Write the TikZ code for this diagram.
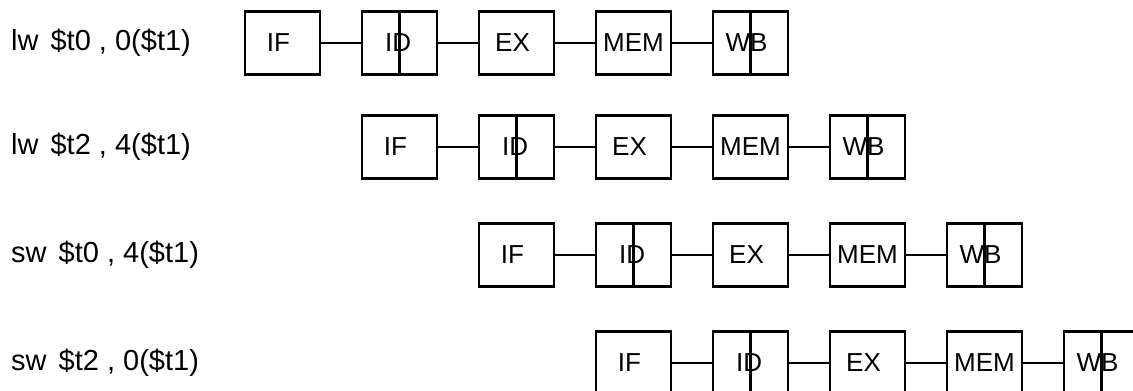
\documentclass[tikz,border=0pt]{standalone}
\usepackage{fontspec}
\setmainfont{Liberation Sans}
\tikzset{
  stage/.style={draw, line width=2.2pt, minimum width=75pt, minimum height=63pt, inner sep=0pt, font=\fontsize{26}{30}\selectfont},
  instr/.style={anchor=west, inner sep=0pt, font=\fontsize{29}{34}\selectfont},
  link/.style={line width=2.2pt},
}
\newcommand\pipe[3]{%
  \node[stage] (#1if) at (#2+37.5,#3) {IF\kern8pt};
  \node[stage] (#1id) at (#2+117+37.5,#3) {ID\kern2.6pt};
  \node[stage] (#1ex) at (#2+234+37.5,#3) {EX\kern8pt};
  \node[stage] (#1mem) at (#2+351+37.5,#3) {MEM};
  \node[stage] (#1wb) at (#2+468+37.5,#3) {WB\kern8pt};
  \draw[link] (#1id.north) -- (#1id.south);
  \draw[link] (#1wb.north) -- (#1wb.south);
  \draw[link] (#1if) -- (#1id);
  \draw[link] (#1id) -- (#1ex);
  \draw[link] (#1ex) -- (#1mem);
  \draw[link] (#1mem) -- (#1wb);
}
\begin{document}
\begin{tikzpicture}[x=1pt,y=-1pt]
\useasboundingbox (0,0) rectangle (1133,391);
\fill[white] (0,0) rectangle (1133,391);
\clip (0,0) rectangle (1133,391);
\node[instr] (i1) at (11,43) {lw\kern4pt{} \$t0 , 0(\$t1)};
\node[instr] (i2) at (11,147) {lw\kern4pt{} \$t2 , 4(\$t1)};
\node[instr] (i3) at (11,255) {sw\kern4pt{} \$t0 , 4(\$t1)};
\node[instr] (i4) at (11,363) {sw\kern4pt{} \$t2 , 0(\$t1)};
\pipe{a}{245}{43}
\pipe{b}{362}{147}
\pipe{c}{479}{255}
\pipe{d}{596}{363}
\end{tikzpicture}
\end{document}
